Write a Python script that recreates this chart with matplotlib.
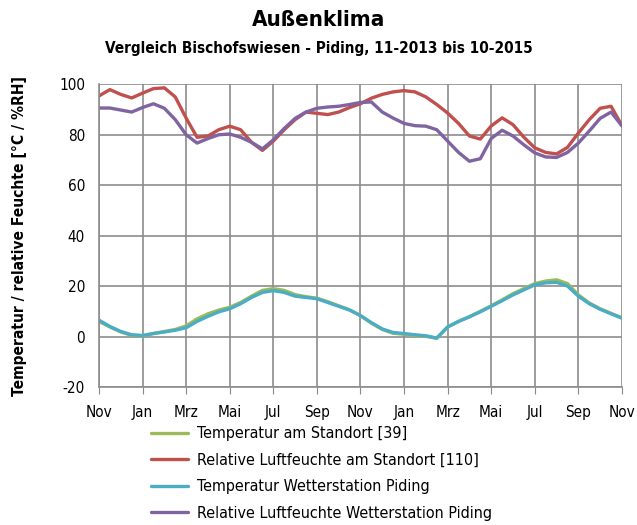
import numpy as np
import matplotlib
matplotlib.use("Agg")
import matplotlib.pyplot as plt

plt.rcParams["font.family"] = "DejaVu Sans"
plt.rcParams["axes.unicode_minus"] = False

# half-month steps from Nov 2013 to Nov 2015
months = np.arange(0, 24.5, 0.5)

temp_standort = [6.0, 3.8, 1.8, 0.5, 0.3, 1.2, 2.0, 2.8, 4.2, 7.0, 9.0, 10.5,
                 11.6, 13.5, 16.0, 18.3, 19.0, 18.3, 16.6, 15.8, 15.2, 13.8, 12.2, 10.6,
                 8.3, 5.3, 2.8, 1.3, 0.9, 0.4, 0.1, -0.7, 3.8, 6.0, 7.9, 10.0,
                 12.2, 14.5, 17.0, 19.0, 21.0, 22.0, 22.5, 21.0, 16.5, 13.3, 11.0, 9.2,
                 7.4]
rh_standort = [95.4, 97.9, 96.0, 94.6, 96.5, 98.3, 98.6, 95.0, 86.6, 79.0, 79.5, 82.0,
               83.4, 82.0, 77.0, 73.8, 77.5, 82.0, 86.0, 89.0, 88.5, 88.0, 89.0, 90.8,
               92.3, 94.5, 96.0, 97.0, 97.5, 97.0, 95.0, 92.0, 88.6, 84.5, 79.5, 78.3,
               83.5, 86.7, 84.0, 79.0, 74.8, 73.0, 72.4, 75.0, 80.7, 86.0, 90.5, 91.3,
               83.6]
temp_piding = [6.5, 4.0, 2.0, 0.7, 0.4, 1.2, 1.8, 2.5, 3.5, 6.0, 8.0, 9.8,
               11.0, 13.0, 15.5, 17.5, 18.2, 17.5, 16.0, 15.5, 15.0, 13.5, 12.0, 10.5,
               8.3, 5.5, 3.0, 1.6, 1.2, 0.7, 0.3, -0.6, 3.8, 6.0, 7.8, 9.8,
               12.0, 14.2, 16.5, 18.5, 20.5, 21.3, 21.5, 20.0, 16.0, 13.0, 10.8, 9.0,
               7.3]
rh_piding = [90.6, 90.6, 89.8, 89.0, 90.8, 92.3, 90.5, 86.0, 80.0, 76.7, 78.5, 80.0,
             80.3, 79.0, 77.0, 74.4, 78.0, 82.5, 86.5, 89.0, 90.5, 91.0, 91.3, 92.0,
             92.8, 93.0, 89.0, 86.6, 84.5, 83.6, 83.4, 82.0, 77.5, 73.0, 69.5, 70.5,
             78.5, 81.8, 79.5, 76.0, 72.8, 71.2, 71.0, 73.0, 76.7, 81.5, 86.5, 89.0,
             83.5]

tick_pos = np.arange(0, 25, 2)
tick_labels = ["Nov", "Jan", "Mrz", "Mai", "Jul", "Sep", "Nov",
               "Jan", "Mrz", "Mai", "Jul", "Sep", "Nov"]

series = [
    ("Temperatur am Standort [39]", temp_standort, "#9BBB59"),
    ("Relative Luftfeuchte am Standort [110]", rh_standort, "#C0504D"),
    ("Temperatur Wetterstation Piding", temp_piding, "#4BACC6"),
    ("Relative Luftfeuchte Wetterstation Piding", rh_piding, "#8064A2"),
]

fig = plt.figure(figsize=(6.37, 5.25), dpi=100)
ax = fig.add_axes([0.1554, 0.2629, 0.821, 0.5765])

for label, vals, color in series:
    ax.plot(months, vals, color=color, lw=2.4, label=label,
            solid_capstyle="round", solid_joinstyle="round")

ax.set_xlim(0, 24)
ax.set_ylim(-20, 100)
ax.set_yticks(range(-20, 101, 20))
ax.set_xticks(tick_pos)
ax.set_xticklabels(tick_labels, fontstretch="condensed")
ax.tick_params(axis="both", labelsize=11, colors="#000000")
ax.tick_params(axis="x", length=5, color="#888888", direction="out", pad=8)
ax.tick_params(axis="y", length=0, pad=10)
for lab in ax.get_yticklabels():
    lab.set_fontstretch("condensed")

ax.grid(True, color="#8c8c8c", lw=1.2)
ax.set_axisbelow(True)
for side in ["top", "right"]:
    ax.spines[side].set_visible(False)
for side in ["left", "bottom"]:
    ax.spines[side].set_color("#8c8c8c")
    ax.spines[side].set_linewidth(1.2)

ax.set_ylabel("Temperatur / relative Feuchte [°C / %RH]", fontsize=11.2,
              fontweight="bold", fontstretch="condensed", labelpad=23)

fig.text(0.5, 0.962, "Außenklima", ha="center", va="center", fontsize=16,
         fontweight="bold", fontstretch="condensed")
fig.text(0.5, 0.908, "Vergleich Bischofswiesen - Piding, 11-2013 bis 10-2015",
         ha="center", va="center", fontsize=11, fontweight="bold",
         fontstretch="condensed")

leg = fig.legend(loc="upper left", bbox_to_anchor=(0.227, 0.2), frameon=False,
                 fontsize=11.5, handlelength=2.3, handletextpad=0.6,
                 labelspacing=0.72, borderaxespad=0)
for t in leg.get_texts():
    t.set_fontstretch("condensed")

fig.savefig("out.png", dpi=100)
